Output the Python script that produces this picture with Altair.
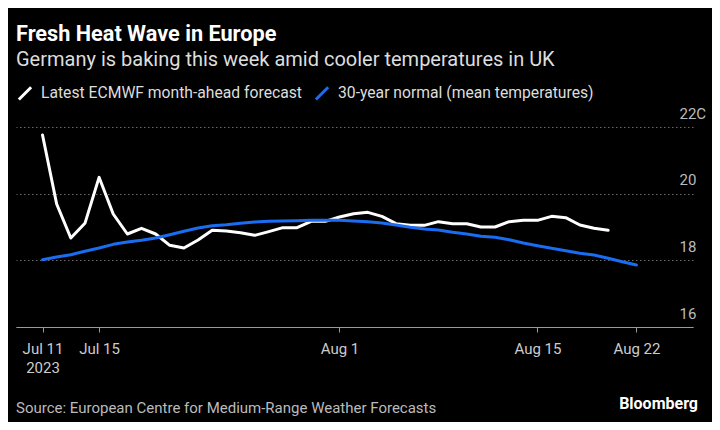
import altair as alt
import pandas as pd

# ---- data ----
forecast_start = "2023-07-11"
forecast = [21.76, 19.69, 18.67, 19.11, 20.49, 19.39, 18.79, 18.96, 18.79, 18.45,
            18.37, 18.61, 18.90, 18.88, 18.83, 18.75, 18.86, 18.98, 18.98, 19.17,
            19.17, 19.30, 19.40, 19.44, 19.32, 19.10, 19.05, 19.05, 19.16, 19.10,
            19.10, 19.00, 19.00, 19.16, 19.20, 19.20, 19.32, 19.28, 19.06, 18.96,
            18.90]
normal_start = "2023-07-11"
normal = [18.02, 18.10, 18.17, 18.27, 18.37, 18.48, 18.55, 18.60, 18.67, 18.77,
          18.87, 18.97, 19.04, 19.07, 19.11, 19.15, 19.17, 19.18, 19.19, 19.20,
          19.20, 19.20, 19.18, 19.16, 19.12, 19.06, 18.99, 18.94, 18.91, 18.84,
          18.79, 18.72, 18.69, 18.62, 18.52, 18.44, 18.36, 18.29, 18.21, 18.16,
          18.06, 17.96, 17.86]
series_names = ["Latest ECMWF month-ahead forecast", "30-year normal (mean temperatures)"]
series_colors = ["#ffffff", "#1a6cf0"]
y_ticks = [16, 18, 20, 22]
x_ticks = [(7, 11), (7, 15), (8, 1), (8, 15), (8, 22)]

title = "Fresh Heat Wave in Europe"
subtitle = "Germany is baking this week amid cooler temperatures in UK"
source = "Source: European Centre for Medium-Range Weather Forecasts"
brand = "Bloomberg"

FONT = "Roboto"

rows = []
for d, v in zip(pd.date_range(forecast_start, periods=len(forecast), freq="D"), forecast):
    rows.append({"date": d.strftime("%Y-%m-%d"), "temp": v, "series": series_names[0]})
for d, v in zip(pd.date_range(normal_start, periods=len(normal), freq="D"), normal):
    rows.append({"date": d.strftime("%Y-%m-%d"), "temp": v, "series": series_names[1]})
df = pd.DataFrame(rows)

x_scale = alt.Scale(
    type="utc",
    domain=[alt.DateTime(year=2023, month=7, date=9, hours=3, utc=True),
            alt.DateTime(year=2023, month=8, date=26, utc=True)],
)

lines = alt.Chart(df).mark_line(strokeWidth=3, strokeJoin="round", strokeCap="round").encode(
    x=alt.X(
        "date:T",
        scale=x_scale,
        axis=alt.Axis(
            title=None,
            values=[alt.DateTime(year=2023, month=m, date=d, utc=True) for m, d in x_ticks],
            format="%b %-d",
            labelExpr="datum.label == 'Jul 11' ? ['Jul 11', '2023'] : datum.label",
            grid=False,
            domainColor="#9a9a9a",
            domainWidth=1,
            tickColor="#9a9a9a",
            tickSize=5,
            labelColor="#cccccc",
            labelFontSize=15,
            labelFont=FONT,
            labelPadding=9,
            labelLineHeight=19,
            labelBaseline="top",
        ),
    ),
    y=alt.Y(
        "temp:Q",
        scale=alt.Scale(domain=[16, 22], nice=False, zero=False),
        axis=alt.Axis(
            title=None,
            orient="right",
            values=y_ticks,
            labelExpr="datum.value == 22 ? '22C' : datum.label",
            ticks=False,
            domain=False,
            grid=True,
            gridColor="#6a6a6a",
            gridDash=[1.5, 2.5],
            gridWidth=1,
            labelAlign="left",
            labelPadding=-14,
            labelBaseline="alphabetic",
            labelOffset=-9,
            labelColor="#bbbbbb",
            labelFontSize=15,
            labelFont=FONT,
        ),
    ),
    color=alt.Color(
        "series:N",
        scale=alt.Scale(domain=series_names, range=series_colors),
        legend=alt.Legend(
            title=None,
            orient="none",
            legendX=1,
            legendY=-42,
            direction="horizontal",
            symbolType="M-1,1L1,-1",
            symbolSize=150,
            symbolStrokeWidth=3,
            labelColor="#dddddd",
            labelFontSize=15.7,
            labelFont=FONT,
            labelOffset=8,
            labelLimit=400,
            columnPadding=7,
            padding=0,
        ),
    ),
)

src = alt.Chart(pd.DataFrame({"t": [source]})).mark_text(
    align="left", baseline="alphabetic", font=FONT, fontSize=15, color="#bbbbbb"
).encode(text="t:N", x=alt.value(0), y=alt.value(286))

brd = alt.Chart(pd.DataFrame({"t": [brand]})).mark_text(
    align="right", baseline="alphabetic", font=FONT, fontSize=16, fontWeight="bold", color="#ffffff"
).encode(text="t:N", x=alt.value(682), y=alt.value(282))

chart = alt.layer(lines, src, brd).properties(
    width=677,
    height=200,
    padding={"left": 8, "top": 119, "right": 19, "bottom": 95},
    autosize=alt.AutoSizeParams(type="none"),
    background="#000000",
    title=alt.TitleParams(
        text=title,
        subtitle=subtitle,
        anchor="start",
        frame="group",
        orient="top",
        offset=15,
        font=FONT,
        fontSize=21.7,
        fontWeight="bold",
        color="#ffffff",
        subtitleFont=FONT,
        subtitleFontSize=20,
        subtitleColor="#dddddd",
        subtitlePadding=4,
    ),
).configure_view(stroke=None)

chart.save("out.html", embed_options={"renderer": "svg", "actions": False})
